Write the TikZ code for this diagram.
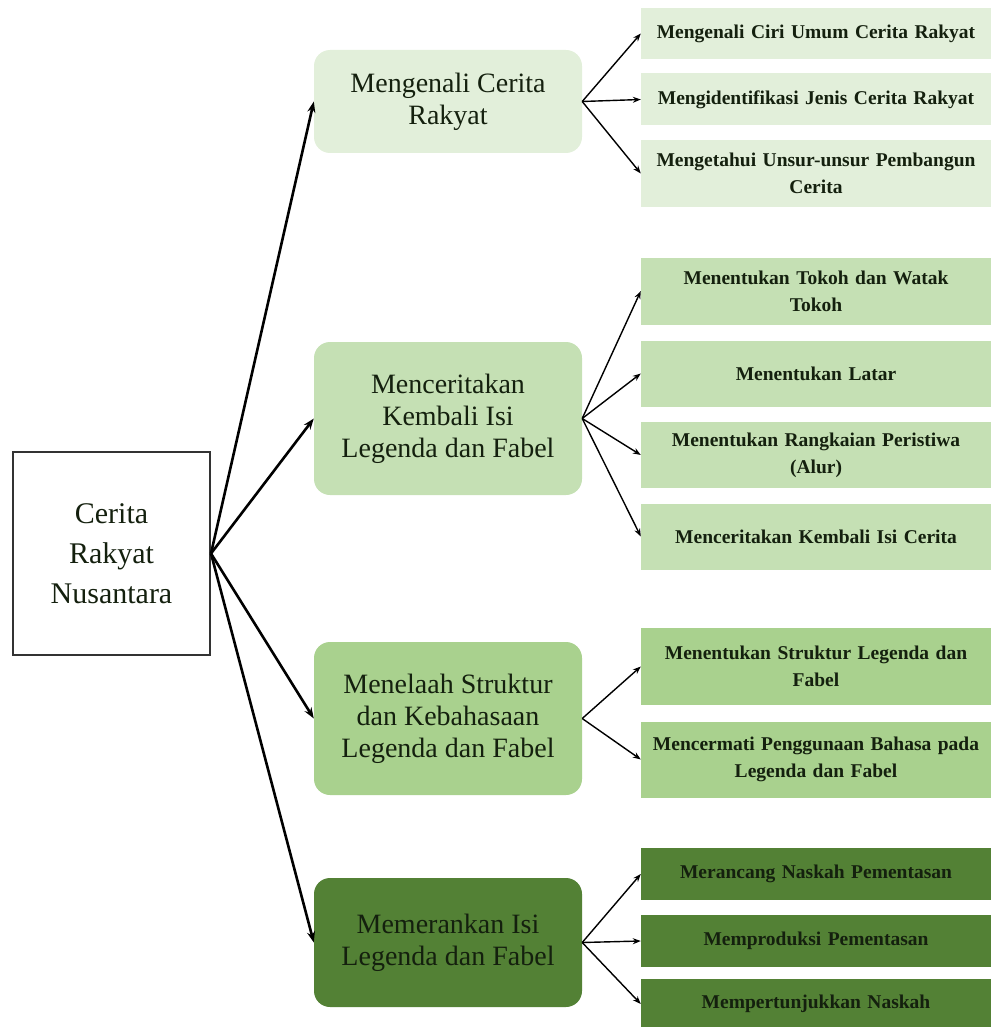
\documentclass[tikz,border=0pt]{standalone}
\usepackage{fontspec}
\setmainfont{Liberation Serif}
\usetikzlibrary{arrows.meta}
\definecolor{gA}{HTML}{E2EFDA}
\definecolor{gB}{HTML}{C5E0B4}
\definecolor{gC}{HTML}{A9D18E}
\definecolor{gD}{HTML}{538135}
\definecolor{txt}{HTML}{14200E}
\tikzset{
  rootbox/.style={draw=black!80, line width=2pt, fill=white, minimum width=197pt, minimum height=203pt, align=center, font=\fontsize{30}{40}\selectfont, text=txt, inner sep=0pt},
  midbox/.style={rounded corners=16pt, minimum width=268pt, align=center, font=\fontsize{28}{32}\selectfont, text=txt, inner sep=0pt},
  leafbox/.style={minimum width=350pt, align=center, text width=340pt, font=\fontsize{19.5}{27}\selectfont\bfseries, text=txt, inner sep=0pt},
  mainarrow/.style={line width=2.6pt, -{Stealth[length=11pt,width=8pt]}},
  subarrow/.style={line width=1.4pt, -{Stealth[length=8pt,width=6pt]}}
}
\begin{document}
\begin{tikzpicture}[x=1pt,y=-1pt]
\useasboundingbox (0,0) rectangle (990,1027);
% root
\node[rootbox] (root) at (111.5,553.5) {Cerita\\Rakyat\\Nusantara};
% mid boxes
\node[midbox, fill=gA, minimum height=103pt] (m1) at (448,101.5) {Mengenali Cerita\\Rakyat};
\node[midbox, fill=gB, minimum height=153pt] (m2) at (448,418.5) {Menceritakan\\Kembali Isi\\Legenda dan Fabel};
\node[midbox, fill=gC, minimum height=153pt] (m3) at (448,718.5) {Menelaah Struktur\\dan Kebahasaan\\Legenda dan Fabel};
\node[midbox, fill=gD, minimum height=129pt] (m4) at (448,942.5) {Memerankan Isi\\Legenda dan Fabel};
% leaves group 1
\node[leafbox, fill=gA, minimum height=51pt] (a1) at (816,33.5) {Mengenali Ciri Umum Cerita Rakyat};
\node[leafbox, fill=gA, minimum height=52pt] (a2) at (816,99.5) {Mengidentifikasi Jenis Cerita Rakyat};
\node[leafbox, fill=gA, minimum height=67pt] (a3) at (816,173.5) {Mengetahui Unsur-unsur Pembangun\\Cerita};
% leaves group 2
\node[leafbox, fill=gB, minimum height=67pt] (b1) at (816,291) {Menentukan Tokoh dan Watak\\Tokoh};
\node[leafbox, fill=gB, minimum height=66pt] (b2) at (816,373.5) {Menentukan Latar};
\node[leafbox, fill=gB, minimum height=66pt] (b3) at (816,455) {Menentukan Rangkaian Peristiwa\\(Alur)};
\node[leafbox, fill=gB, minimum height=66pt] (b4) at (816,536.5) {Menceritakan Kembali Isi Cerita};
% leaves group 3
\node[leafbox, fill=gC, minimum height=77pt] (c1) at (816,666.5) {Menentukan Struktur Legenda dan\\Fabel};
\node[leafbox, fill=gC, minimum height=76pt] (c2) at (816,759.5) {Mencermati Penggunaan Bahasa pada\\Legenda dan Fabel};
% leaves group 4
\node[leafbox, fill=gD, minimum height=52pt] (d1) at (816,874) {Merancang Naskah Pementasan};
\node[leafbox, fill=gD, minimum height=52pt] (d2) at (816,941) {Memproduksi Pementasan};
\node[leafbox, fill=gD, minimum height=50pt] (d3) at (816,1004) {Mempertunjukkan Naskah};
% main arrows
\foreach \m in {m1,m2,m3,m4} \draw[mainarrow] (root.east) -- (\m.west);
% sub arrows
\foreach \l in {a1,a2,a3} \draw[subarrow] (m1.east) -- (\l.west);
\foreach \l in {b1,b2,b3,b4} \draw[subarrow] (m2.east) -- (\l.west);
\foreach \l in {c1,c2} \draw[subarrow] (m3.east) -- (\l.west);
\foreach \l in {d1,d2,d3} \draw[subarrow] (m4.east) -- (\l.west);
\end{tikzpicture}
\end{document}
